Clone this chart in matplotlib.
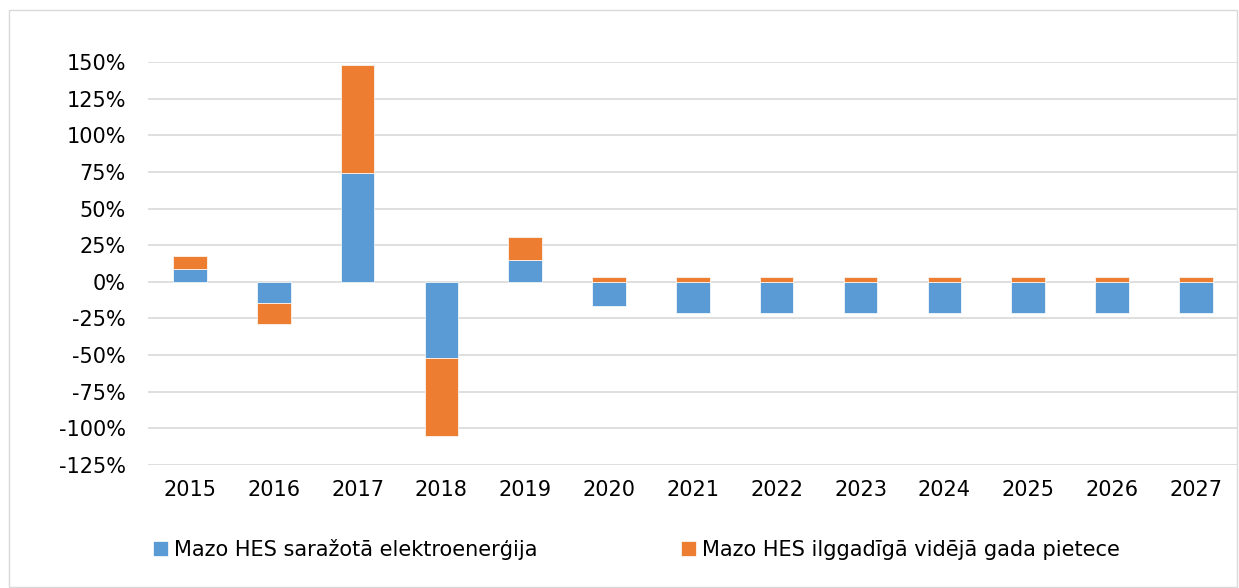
import matplotlib.pyplot as plt
from matplotlib.patches import Rectangle
from matplotlib.ticker import FuncFormatter

years = ['2015', '2016', '2017', '2018', '2019', '2020', '2021',
         '2022', '2023', '2024', '2025', '2026', '2027']
# percent values
produced = [8.5, -14.5, 74, -52, 15, -16.5, -21, -21, -21, -21, -21, -21, -21]
inflow = [9, -14.5, 74, -53, 15.5, 3.5, 3.5, 3.5, 3.5, 3.5, 3.5, 3.5, 3.5]

label_a = 'Mazo HES saražotā elektroenerģija'
label_b = 'Mazo HES ilggadīgā vidējā gada pietece'

blue = '#5B9BD5'
orange = '#ED7D31'

plt.rcParams['font.family'] = ['DejaVu Sans']
plt.rcParams['font.size'] = 15

fig = plt.figure(figsize=(12.39, 5.88), dpi=100)
ax = fig.add_axes([148 / 1239, 1 - 465 / 588, 1 - 148 / 1239 - 0.001, (465 - 62) / 588])

x = list(range(len(years)))
# orange stacks on blue when signs agree, otherwise starts at zero
bottoms = [a if (a >= 0) == (b >= 0) else 0 for a, b in zip(produced, inflow)]

ax.bar(x, produced, width=0.4, color=blue, edgecolor='white', linewidth=0.5,
       label=label_a, zorder=3)
ax.bar(x, inflow, width=0.4, bottom=bottoms, color=orange, edgecolor='white',
       linewidth=0.5, label=label_b, zorder=3)

ax.set_xlim(-0.5, len(years) - 0.5)
ax.set_ylim(-125, 150)
ax.set_yticks(range(-125, 151, 25))
ax.yaxis.set_major_formatter(FuncFormatter(lambda v, p: f'{int(v)}%'))
ax.set_xticks(x)
ax.set_xticklabels(years)
ax.tick_params(axis='both', length=0, labelsize=15)
ax.tick_params(axis='y', pad=16)
ax.tick_params(axis='x', pad=11)
ax.grid(axis='y', color='#d9d9d9', linewidth=1.2, zorder=0)
for s in ax.spines.values():
    s.set_visible(False)

fig.legend(loc='center left', bbox_to_anchor=(145 / 1239, 1 - 549 / 588), ncol=2,
           frameon=False, fontsize=15, handlelength=0.7, handleheight=0.7,
           handletextpad=0.3, columnspacing=6.9, borderaxespad=0)

fig.patches.append(Rectangle((9 / 1239, 0.002), 1 - 9 / 1239 - 0.002, 1 - 10 / 588 - 0.002,
                             transform=fig.transFigure, fill=False,
                             edgecolor='#d9d9d9', linewidth=1))

plt.savefig('out.png', dpi=100)
